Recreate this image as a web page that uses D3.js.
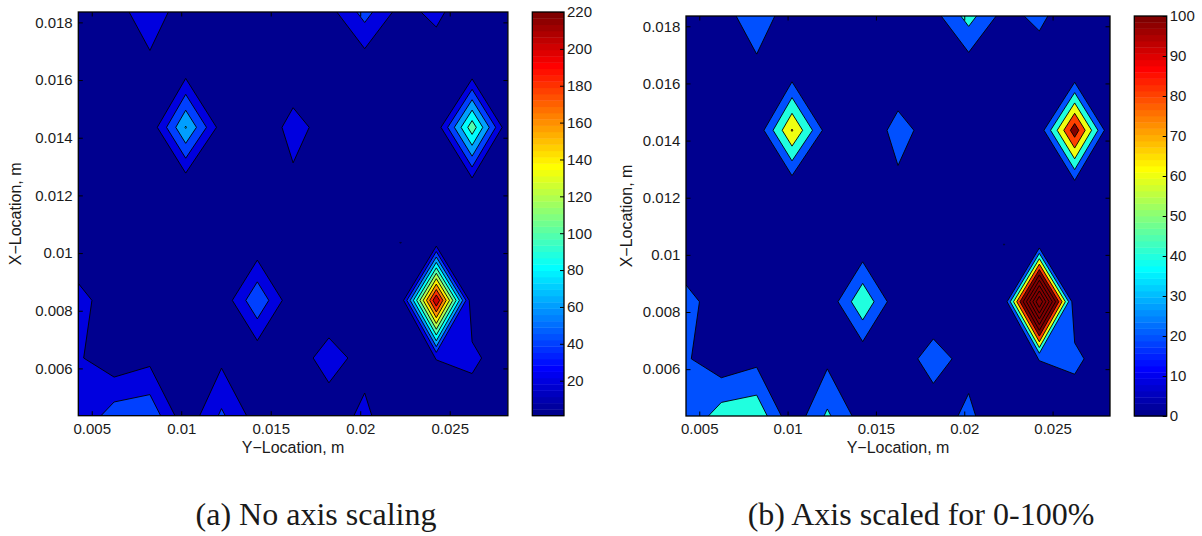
<!DOCTYPE html>
<html>
<head>
<meta charset="utf-8">
<script src="https://cdn.jsdelivr.net/npm/d3@7"></script>
<style>
  body { margin: 0; background: #fff; }
  text { fill: #1a1a1a; }
</style>
</head>
<body>
<svg id="fig" width="1202" height="536"></svg>
<script>
// grid positions (m)
var yLoc = [0.00425, 0.00625, 0.00825, 0.01025, 0.01225, 0.01425, 0.01625,
            0.01825, 0.02025, 0.02225, 0.02425, 0.02625, 0.02825];
var xLoc = [0.00436, 0.00636, 0.00836, 0.01036, 0.01236, 0.01436, 0.01636, 0.01836];

// amplitude grid, one row per X-Location (bottom row first)
var amp = [
  [21,   51,  55,  5,    43.5, 10,  5,   9.4, 24.6, 1.5,  5,   1.5,  3],
  [22.7, 4.7, 14,  5,    15,   4,   9.8, 28,  12.9, 4,    20.5, 26.8, 1.2],
  [27.5, 7.8, 4,   4,    4,    57,  4,   5.1, 3,    1,    220, 2.6,  2],
  [2,    3,   3,   4,    3,    4,   3,   3,   4,    20.2, 7.3, 4,    3],
  [3,    3,   3,   4,    3,    4,   15,  5,   3,    4,    5,   7,    3],
  [3,    4,   4,   81.5, 10,   2.2, 28,  10.2, 4,   3,    6,   113,  2.3],
  [3,    4,   11,  9,    5,    3,   4.5, 5,   4,    5,    3,   2.3,  2],
  [4,    7,   38,  3,    4,    3,   5,   12,  48,   12,   26,  1,    3]
];

var levels = [20, 40, 60, 80, 100, 120, 140, 160, 180, 200];
var xTicks = [0.005, 0.01, 0.015, 0.02, 0.025];
var yTicks = [0.006, 0.008, 0.01, 0.012, 0.014, 0.016, 0.018];
var cbTicksA = [20, 40, 60, 80, 100, 120, 140, 160, 180, 200, 220];
var cbTicksB = [0, 10, 20, 30, 40, 50, 60, 70, 80, 90, 100];
var xLabel = "Y\u2212Location, m";
var yLabel = "X\u2212Location, m";
var captionA = "(a) No axis scaling";
var captionB = "(b) Axis scaled for 0-100%";

var flat = [].concat.apply([], amp);

// matlab style jet colormap
function jet(m) {
  var n = Math.ceil(m / 4), u = [], k;
  for (k = 1; k <= n; k++) u.push(k / n);
  for (k = 1; k < n; k++) u.push(1);
  for (k = n; k >= 1; k--) u.push(k / n);
  var g0 = Math.ceil(n / 2) - (m % 4 === 1 ? 1 : 0);
  var J = d3.range(m).map(function(){ return [0, 0, 0]; });
  for (k = 0; k < u.length; k++) {
    var g = g0 + k + 1, r = g + n, b = g - n;
    if (r <= m) J[r - 1][0] = u[k];
    if (g <= m) J[g - 1][1] = u[k];
    if (b >= 1) J[b - 1][2] = u[k];
  }
  return J.map(function(c){ return d3.rgb(c[0] * 255, c[1] * 255, c[2] * 255).formatHex(); });
}
var jetMap = jet(64);
function colorOf(v, clim) {
  var m = jetMap.length;
  var k = Math.floor((v - clim[0]) / (clim[1] - clim[0]) * m);
  return jetMap[Math.max(0, Math.min(m - 1, k))];
}

var bands = d3.contours().size([yLoc.length, xLoc.length]).thresholds(levels)(flat);

var panels = [
  {name: "a", clim: d3.extent(flat), box: {l: 78.3, t: 12, r: 507.9, b: 415.7},
   cb: {l: 532.3, r: 564}, cbTicks: cbTicksA, caption: captionA, capX: 316, yLabX: 20.5},
  {name: "b", clim: [0, 100], box: {l: 686, t: 16, r: 1110, b: 416},
   cb: {l: 1134.3, r: 1166.7}, cbTicks: cbTicksB, caption: captionB, capX: 921, yLabX: 631.5}
];

var svg = d3.select("#fig");
var font = "'Liberation Sans', Arial, Helvetica, sans-serif";
var fmt = function(d){ return String(+d.toFixed(3)); };

panels.forEach(function(p) {
  var bx = p.box;
  var g = svg.append("g");
  var x = d3.scaleLinear().domain(d3.extent(yLoc)).range([bx.l, bx.r]);
  var y = d3.scaleLinear().domain(d3.extent(xLoc)).range([bx.b, bx.t]);
  // grid index -> location
  var gi = d3.scaleLinear().domain([0.5, yLoc.length - 0.5]).range(d3.extent(yLoc));
  var gj = d3.scaleLinear().domain([0.5, xLoc.length - 0.5]).range(d3.extent(xLoc));
  var path = d3.geoPath(d3.geoTransform({
    point: function(px, py){ this.stream.point(x(gi(px)), y(gj(py))); }
  }));

  svg.append("clipPath").attr("id", "clip" + p.name)
    .append("rect").attr("x", bx.l).attr("y", bx.t)
    .attr("width", bx.r - bx.l).attr("height", bx.b - bx.t);

  var plot = g.append("g").attr("clip-path", "url(#clip" + p.name + ")");
  plot.append("rect").attr("x", bx.l).attr("y", bx.t)
    .attr("width", bx.r - bx.l).attr("height", bx.b - bx.t)
    .attr("fill", colorOf(p.clim[0], p.clim));
  plot.selectAll("path.fill").data(bands).join("path")
    .attr("class", "fill")
    .attr("d", path)
    .attr("fill", function(d){ return colorOf(d.value, p.clim); });
  plot.selectAll("path.line").data(bands).join("path")
    .attr("class", "line")
    .attr("d", path)
    .attr("fill", "none")
    .attr("stroke", "#000")
    .attr("stroke-width", 0.9)
    .attr("stroke-linejoin", "round");

  // inward ticks on all sides
  function inTicks(axis, tr) {
    g.append("g").attr("transform", tr)
      .call(axis.tickSize(-4.5).tickSizeOuter(0).tickFormat(""))
      .call(function(s){ s.select(".domain").remove(); });
  }
  inTicks(d3.axisBottom(x).tickValues(xTicks), "translate(0," + bx.b + ")");
  inTicks(d3.axisTop(x).tickValues(xTicks), "translate(0," + bx.t + ")");
  inTicks(d3.axisLeft(y).tickValues(yTicks), "translate(" + bx.l + ",0)");
  inTicks(d3.axisRight(y).tickValues(yTicks), "translate(" + bx.r + ",0)");

  g.append("g").attr("transform", "translate(0," + bx.b + ")")
    .call(d3.axisBottom(x).tickValues(xTicks).tickSize(0).tickPadding(7.6).tickFormat(fmt))
    .call(function(s){ s.select(".domain").remove(); })
    .attr("font-size", 15).attr("font-family", font);
  g.append("g").attr("transform", "translate(" + bx.l + ",0)")
    .call(d3.axisLeft(y).tickValues(yTicks).tickSize(0).tickPadding(5.6).tickFormat(fmt))
    .call(function(s){ s.select(".domain").remove(); })
    .attr("font-size", 15).attr("font-family", font);

  g.append("rect").attr("x", bx.l).attr("y", bx.t)
    .attr("width", bx.r - bx.l).attr("height", bx.b - bx.t)
    .attr("fill", "none").attr("stroke", "#000").attr("stroke-width", 1.3);

  g.append("text")
    .attr("x", (bx.l + bx.r) / 2).attr("y", 452.5)
    .attr("text-anchor", "middle").attr("font-family", font).attr("font-size", 16)
    .text(xLabel);
  g.append("text")
    .attr("transform", "translate(" + p.yLabX + "," + (bx.t + bx.b) / 2 + ") rotate(-90)")
    .attr("text-anchor", "middle").attr("font-family", font).attr("font-size", 16)
    .text(yLabel);

  // colorbar
  var cs = d3.scaleLinear().domain(p.clim).range([bx.b, bx.t]);
  var span = p.clim[1] - p.clim[0];
  g.selectAll("rect.cb").data(jetMap).join("rect")
    .attr("class", "cb")
    .attr("x", p.cb.l).attr("width", p.cb.r - p.cb.l)
    .attr("y", function(c, k){ return cs(p.clim[0] + (k + 1) * span / jetMap.length); })
    .attr("height", (bx.b - bx.t) / jetMap.length + 0.4)
    .attr("fill", function(c){ return c; });
  g.append("g").attr("transform", "translate(" + p.cb.r + ",0)")
    .call(d3.axisLeft(cs).tickValues(p.cbTicks).tickSize(4).tickSizeOuter(0).tickFormat(""))
    .call(function(s){ s.select(".domain").remove(); });
  g.append("g").attr("transform", "translate(" + p.cb.r + ",0)")
    .call(d3.axisRight(cs).tickValues(p.cbTicks).tickSize(0).tickPadding(3))
    .call(function(s){ s.select(".domain").remove(); })
    .attr("font-size", 15).attr("font-family", font);
  g.append("rect").attr("x", p.cb.l).attr("y", bx.t)
    .attr("width", p.cb.r - p.cb.l).attr("height", bx.b - bx.t)
    .attr("fill", "none").attr("stroke", "#000").attr("stroke-width", 1.3);

  svg.append("text")
    .attr("x", p.capX).attr("y", 525)
    .attr("text-anchor", "middle")
    .attr("font-family", "'Liberation Serif', 'Times New Roman', serif")
    .attr("font-size", 32)
    .text(p.caption);
});
</script>
</body>
</html>
